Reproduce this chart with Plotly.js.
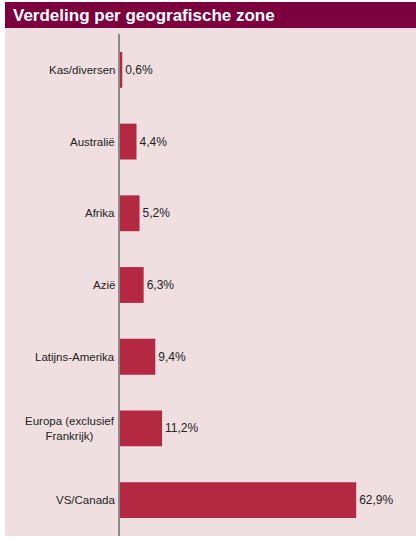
<!DOCTYPE html>
<html>
<head>
<meta charset="utf-8">
<script src="https://cdn.plot.ly/plotly-3.0.1.min.js"></script>
<style>html,body{margin:0;padding:0;background:#fff;}#chart{width:416px;height:539px;}</style>
</head>
<body>
<div id="chart"></div>
<script>
var categories = ["Kas/diversen", "Australië", "Afrika", "Azië", "Latijns-Amerika", "Europa (exclusief<br>Frankrijk)", "VS/Canada"];
var values = [0.6, 4.4, 5.2, 6.3, 9.4, 11.2, 62.9];
var valueLabels = values.map(function(v){ return v.toFixed(1).replace('.', ',') + '%'; });
var chartTitle = "Verdeling per geografische zone";

var W = 416, H = 539;
var L = 120, R = 6, T = 34, B = 3;
var pw = W - L - R, ph = H - T - B;
function px(x){ return (x - L) / pw; }
function py(y){ return (H - B - y) / ph; }

var trace = {
  type: 'bar',
  orientation: 'h',
  y: categories,
  x: values,
  text: valueLabels,
  textposition: 'outside',
  textfont: {family: 'Liberation Sans, Arial, sans-serif', size: 12, color: '#222'},
  cliponaxis: false,
  marker: {color: '#b52841'},
  hoverinfo: 'none'
};

var annotations = categories.map(function(c){
  return {
    xref: 'paper', yref: 'y', x: px(117), y: c,
    xanchor: 'right', yanchor: 'middle', align: 'center',
    text: c, showarrow: false,
    font: {family: 'Liberation Sans, Arial, sans-serif', size: 11.5, color: '#222'}
  };
});

var layout = {
  width: W, height: H,
  margin: {l: L, r: R, t: T, b: B, pad: 0},
  paper_bgcolor: '#ffffff',
  plot_bgcolor: 'rgba(0,0,0,0)',
  showlegend: false,
  bargap: 0.5,
  title: {
    text: '<b>' + chartTitle + '</b>',
    xref: 'container', yref: 'container',
    x: 13 / W, xanchor: 'left',
    y: 1 - 15.5 / H, yanchor: 'middle',
    font: {family: 'Liberation Sans, Arial, sans-serif', size: 17, color: '#ffffff'}
  },
  xaxis: {
    range: [0, pw / 3.755],
    showgrid: false, zeroline: false, showticklabels: false, showline: false, ticks: ''
  },
  yaxis: {
    type: 'category',
    autorange: 'reversed',
    showgrid: false, zeroline: false, showticklabels: false,
    showline: true, linecolor: '#8a8a8a', linewidth: 2, ticks: ''
  },
  shapes: [
    {type: 'rect', xref: 'paper', yref: 'paper', layer: 'below',
     x0: px(5), x1: px(416), y0: py(536), y1: py(28),
     fillcolor: '#f0dfe0', line: {width: 0}},
    {type: 'rect', xref: 'paper', yref: 'paper', layer: 'below',
     x0: px(5), x1: px(416), y0: py(28), y1: py(2),
     fillcolor: '#7b003d', line: {width: 0}}
  ],
  annotations: annotations
};

Plotly.newPlot('chart', [trace], layout, {displayModeBar: false, staticPlot: true});
</script>
</body>
</html>
